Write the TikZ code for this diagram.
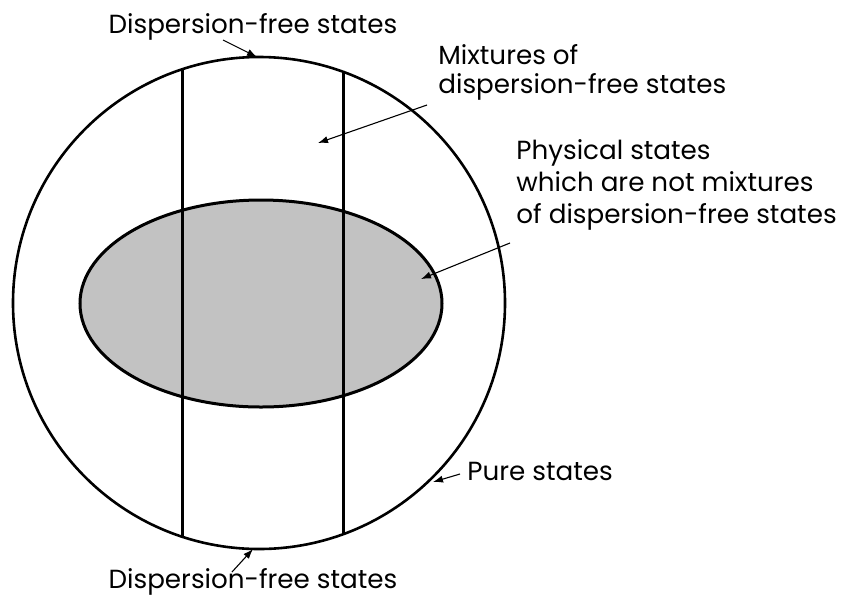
\documentclass[tikz,border=0pt]{standalone}
\usepackage{fontspec}
\setmainfont{Poppins}
\usepackage{tikz}
\usetikzlibrary{positioning}
\usetikzlibrary{shapes.geometric}
\usetikzlibrary{arrows.meta}

\tikzset{
  bordo/.style={line width=1.3pt},
  freccia/.style={-{Latex[length=5pt,width=3.6pt]}, line width=0.55pt},
  etichetta/.style={inner sep=0pt, font=\fontsize{13.1}{14.5}\selectfont, align=left}
}

\begin{document}
\begin{tikzpicture}[x=0.5pt, y=-0.5pt]
  \useasboundingbox (0,0) rectangle (846,596);
  % Insiemi di stati
  \node [circle, draw, bordo, minimum size=246pt, inner sep=0pt] (puri) at (259,303) {};
  \node [ellipse, draw, line width=1.5pt, fill=black!24, minimum width=181pt, minimum height=103.5pt, inner sep=0pt] (fisici) at (261,303.5) {};
  \draw [bordo] (puri.108.7) -- (puri.-108.7);
  \draw [bordo] (puri.70.3) -- (puri.-70.3);

  % Etichette
  \node [etichetta, anchor=base] (dfsopra) at (253,33) {Dispersion-free states};
  \node [etichetta, anchor=base] (dfsotto) at (253,588) {Dispersion-free states};
  \node [etichetta, anchor=base west] (miscele) at (438,93) {Mixtures of\\dispersion-free states};
  \node [etichetta, anchor=base west, font=\fontsize{13.1}{16}\selectfont] (nonmiscele) at (516,223) {Physical states\\which are not mixtures\\of dispersion-free states};
  \node [etichetta, anchor=base west] (pure) at (467,480) {Pure states};

  \coordinate (a1) at (223,40);
  \coordinate (b1) at (257,57);
  \coordinate (a2) at (232,572);
  \coordinate (b2) at (253,549);
  \coordinate (a3) at (427,105);
  \coordinate (b3) at (318,143);
  \coordinate (a4) at (510,243);
  \coordinate (b4) at (421,279);
  \coordinate (a5) at (460,474);
  \coordinate (b5) at (433,482);
  \foreach \i in {1,...,5}
    \draw [freccia] (a\i) -- (b\i);
\end{tikzpicture}
\end{document}
